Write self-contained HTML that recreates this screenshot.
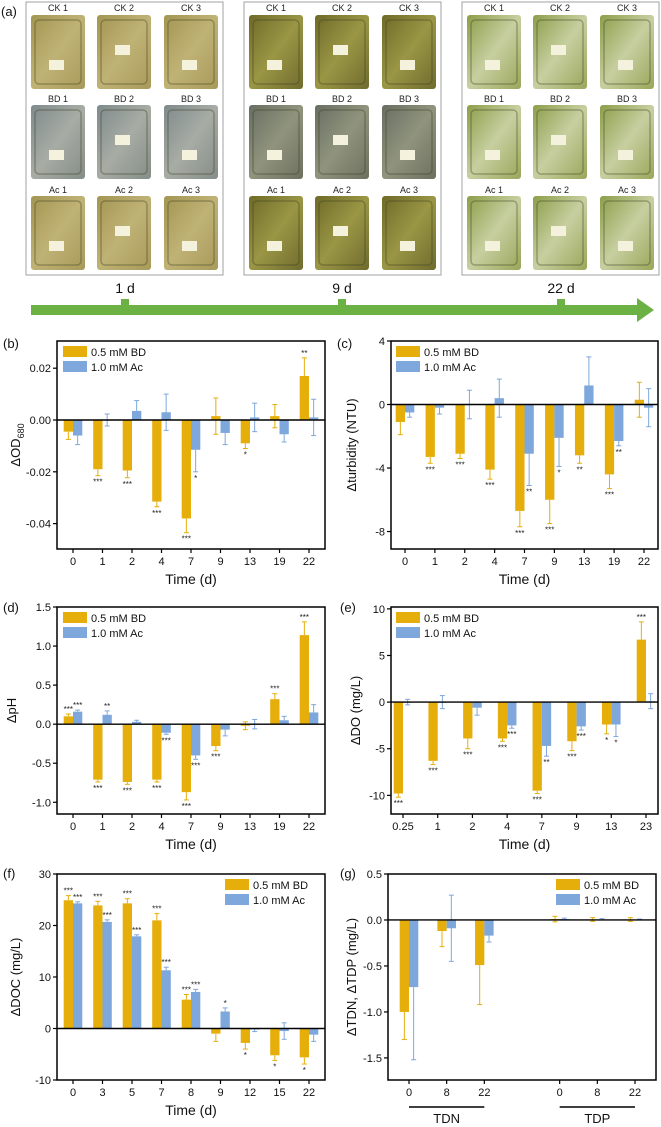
<!DOCTYPE html>
<html><head><meta charset="utf-8">
<style>
html,body{margin:0;padding:0;background:#fff;}
svg{display:block;font-family:"Liberation Sans",Arial,sans-serif;}
</style></head>
<body>
<svg id="fig" width="661" height="1127" viewBox="0 0 661 1127" xmlns="http://www.w3.org/2000/svg">
<defs>
<linearGradient id="g1" x1="0" y1="0" x2="1" y2="1"><stop offset="0" stop-color="#a39652"/><stop offset="0.5" stop-color="#bfb275"/><stop offset="1" stop-color="#a89a5a"/></linearGradient>
<linearGradient id="g1b" x1="0" y1="0" x2="1" y2="1"><stop offset="0" stop-color="#7f8a8c"/><stop offset="0.5" stop-color="#a7aca4"/><stop offset="1" stop-color="#858d88"/></linearGradient>
<linearGradient id="g2" x1="0" y1="0" x2="1" y2="1"><stop offset="0" stop-color="#6e6a28"/><stop offset="0.5" stop-color="#9a9645"/><stop offset="1" stop-color="#6f6b2e"/></linearGradient>
<linearGradient id="g2b" x1="0" y1="0" x2="1" y2="1"><stop offset="0" stop-color="#676e62"/><stop offset="0.5" stop-color="#90947d"/><stop offset="1" stop-color="#6c705f"/></linearGradient>
<linearGradient id="g3" x1="0" y1="0" x2="1" y2="1"><stop offset="0" stop-color="#8c9e4a"/><stop offset="0.5" stop-color="#c7cfa0"/><stop offset="1" stop-color="#9aa65a"/></linearGradient>
</defs>
<g id="photos"></g>
<g id="charts"></g>
</svg>
<script>
const NS="http://www.w3.org/2000/svg";
const GOLD="#e5ae0b", BLUE="#7ea7dc";
function mk(tag,attrs,parent,text){const e=document.createElementNS(NS,tag);for(const k in attrs)e.setAttribute(k,attrs[k]);if(text!==undefined)e.textContent=text;parent.appendChild(e);return e;}

/* ---------- data ---------- */
const catsB=["0","1","2","4","7","9","13","19","22"];
const bdB=[-0.0045,-0.019,-0.0195,-0.0315,-0.038,0.0015,-0.009,0.0015,0.017];
const bdErrB=[0.003,0.0025,0.0028,0.002,0.0055,0.007,0.002,0.0045,0.007];
const acB=[-0.006,0,0.0035,0.003,-0.0115,-0.005,0.001,-0.0055,0.001];
const acErrB=[0.0035,0.0023,0.004,0.007,0.0085,0.0045,0.0055,0.003,0.007];
const sigBdB=["","***","***","***","***","","*","","**"];
const sigAcB=["","","","","*","","","",""];
const ticksB=[0.02,0,-0.02,-0.04];

const catsC=["0","1","2","4","7","9","13","19","22"];
const bdC=[-1.1,-3.3,-3.1,-4.1,-6.7,-6.0,-3.2,-4.4,0.3];
const bdErrC=[0.8,0.4,0.3,0.6,1.0,1.5,0.5,0.9,1.1];
const acC=[-0.5,-0.2,0,0.4,-3.1,-2.1,1.2,-2.3,-0.2];
const acErrC=[0.3,0.4,0.9,1.2,2.0,1.8,1.8,0.3,1.2];
const sigBdC=["","***","***","***","***","***","**","***",""];
const sigAcC=["","","","","**","*","","**",""];
const ticksC=[4,0,-4,-8];

const catsD=["0","1","2","4","7","9","13","19","22"];
const bdD=[0.1,-0.71,-0.74,-0.71,-0.87,-0.28,-0.02,0.32,1.14];
const bdErrD=[0.03,0.03,0.03,0.03,0.1,0.06,0.05,0.07,0.17];
const acD=[0.16,0.12,0.03,-0.11,-0.4,-0.07,0,0.05,0.15];
const acErrD=[0.02,0.05,0.02,0.02,0.05,0.08,0.06,0.05,0.1];
const sigBdD=["***","***","***","***","***","***","","***","***"];
const sigAcD=["***","**","","***","***","","","",""];
const ticksD=[1.5,1.0,0.5,0.0,-0.5,-1.0];

const catsE=["0.25","1","2","4","7","9","13","23"];
const bdE=[-9.8,-6.3,-3.9,-3.9,-9.5,-4.2,-2.4,6.7];
const bdErrE=[0.4,0.4,1.1,0.3,0.3,1.0,1.0,1.9];
const acE=[0,0,-0.6,-2.5,-4.7,-2.6,-2.4,0.1];
const acErrE=[0.3,0.7,0.8,0.3,1.1,0.4,1.3,0.8];
const sigBdE=["***","***","***","***","***","***","*","***"];
const sigAcE=["","","","***","**","***","*",""];
const ticksE=[10,5,0,-5,-10];

const catsF=["0","3","5","7","8","9","12","15","22"];
const bdF=[24.9,23.9,24.3,21,5.6,-1,-2.8,-5.2,-5.6];
const bdErrF=[0.9,0.8,0.9,1.3,1.0,1.5,1.2,1.0,1.3];
const acF=[24.3,20.7,17.9,11.3,7.1,3.3,-0.2,-0.5,-1.2];
const acErrF=[0.3,0.4,0.3,0.6,0.5,0.7,0.4,1.6,1.3];
const sigBdF=["***","***","***","***","***","","*","*","*"];
const sigAcF=["***","***","***","***","***","*","","",""];
const ticksF=[30,20,10,0,-10];

const catsG=["0","8","22","","0","8","22"];
const bdG=[-1.0,-0.12,-0.49,null,0.01,0.005,0.005];
const bdErrG=[0.3,0.17,0.43,null,0.03,0.02,0.02];
const acG=[-0.73,-0.09,-0.17,null,0.01,0.005,0.005];
const acErrG=[0.79,0.36,0.07,null,0.01,0.01,0.005];
const sigBdG=["","","","","","",""];
const sigAcG=["","","","","","",""];
const ticksG=[0.5,0.0,-0.5,-1.0,-1.5];

/* ---------- photos ---------- */
const P=document.getElementById('photos');
const boxes=[{x:26,w:197,g:["url(#g1)","url(#g1b)","url(#g1)"],cols:[31,97,164]},
             {x:244,w:197,g:["url(#g2)","url(#g2b)","url(#g2)"],cols:[249,315,382]},
             {x:462,w:197,g:["url(#g3)","url(#g3)","url(#g3)"],cols:[467,533,600]}];
const rowNames=["CK","BD","Ac"], rowY=[15,105,196], labY=[11,102,193];
boxes.forEach((b,bi)=>{
  const gb=mk('g',{},P);
  
  
  mk('rect',{x:b.x,y:2,width:b.w,height:273,fill:'#fff',stroke:'#a0a0a0','stroke-width':1},gb);
  rowNames.forEach((rn,ri)=>{
    b.cols.forEach((cx,ci)=>{
      const r=mk('rect',{x:cx,y:rowY[ri],width:54,height:74,rx:3,fill:b.g[ri]},gb);
      
      
      mk('rect',{x:cx+4,y:rowY[ri]+5,width:46,height:64,rx:4,fill:'none',stroke:'rgba(60,60,30,0.35)','stroke-width':1.5},gb);
      const ly=rowY[ri]+(ci%2?30:45);
      mk('rect',{x:cx+18,y:ly,width:15,height:10,fill:'#f4f1dc'},gb);
      const t=mk('text',{x:cx+27,y:labY[ri],'font-size':9,'text-anchor':'middle',fill:'#222'},gb,rn+' '+(ci+1));
      
      
    });
  });
});
const arrow=mk('g',{},P);


mk('rect',{x:31,y:305,width:608,height:10,fill:'#6bb144'},arrow);
mk('polygon',{points:'637,298 654,310 637,322',fill:'#6bb144'},arrow);
[[125,"1 d"],[342,"9 d"],[561,"22 d"]].forEach(([x,l])=>{
  mk('rect',{x:x-4,y:299,width:8,height:7,fill:'#6bb144'},arrow);
  const t=mk('text',{x:x,y:293,'font-size':14,'text-anchor':'middle',fill:'#111'},arrow,l);
  
  
});
const ta=mk('text',{x:1,y:16,'font-size':13,fill:'#111'},P,'(a)');



/* ---------- charts ---------- */
const C=document.getElementById('charts');
function panel(cfg){
  const g=mk('g',{},C);
  
  
  const {x0,x1,yT,yB,vT,vB}=cfg;
  const Y=v=>yT+(vT-v)/(vT-vB)*(yB-yT);
  const n=cfg.cats.length;
  const step=(x1-x0-2*cfg.pad)/(n-1);
  const X=i=>x0+cfg.pad+i*step;
  const bw=cfg.bw||9.3;
  // ticks
  cfg.ticks.forEach(t=>{
    const y=Y(t);
    mk('line',{x1:x0,x2:x0-4,y1:y,y2:y,stroke:'#000','stroke-width':1.2},g);
    const lb=mk('text',{x:x0-6,y:y+4,'font-size':11,'text-anchor':'end',fill:'#111'},g,cfg.fmt(t));
    
    
  });
  if(cfg.minor) cfg.minor.forEach(t=>{const y=Y(t);mk('line',{x1:x0,x2:x0-2.5,y1:y,y2:y,stroke:'#000','stroke-width':1},g);});
  // bars
  function series(vals,errs,sig,color,off,name){
    vals.forEach((v,i)=>{
      if(v===null)return;
      const cx=X(i)+off;
      const y0=Y(0), yv=Y(v);
      const r=mk('rect',{x:cx-bw/2,y:Math.min(y0,yv),width:bw,height:Math.max(Math.abs(yv-y0),0.6),fill:color},g);
      
      
      const e=errs[i];
      let ye;
      const dir=v<0?-1:1;
      if(Math.abs(v)<e*0.5){ // two-sided
        mk('line',{x1:cx,x2:cx,y1:Y(v-e),y2:Y(v+e),stroke:color,'stroke-width':1},g);
        mk('line',{x1:cx-2.5,x2:cx+2.5,y1:Y(v-e),y2:Y(v-e),stroke:color,'stroke-width':1},g);
        mk('line',{x1:cx-2.5,x2:cx+2.5,y1:Y(v+e),y2:Y(v+e),stroke:color,'stroke-width':1},g);
        ye=dir<0?Y(v-e):Y(v+e);
      } else {
        ye=Y(v+dir*e);
        mk('line',{x1:cx,x2:cx,y1:yv,y2:ye,stroke:color,'stroke-width':1},g);
        mk('line',{x1:cx-2.5,x2:cx+2.5,y1:ye,y2:ye,stroke:color,'stroke-width':1},g);
      }
      if(sig[i]){
        const sy=dir<0?ye+9:ye-2;
        const s=mk('text',{x:cx,y:sy,'font-size':8,'text-anchor':'middle',fill:'#222'},g,sig[i]);
        
        
      }
    });
  }
  series(cfg.bd,cfg.bde,cfg.sb,GOLD,-bw/2,'bd');
  series(cfg.ac,cfg.ace,cfg.sa,BLUE,bw/2,'ac');
  // zero line
  mk('line',{x1:x0,x2:x1,y1:Y(0),y2:Y(0),stroke:'#000','stroke-width':1.4},g);
  // frame
  mk('rect',{x:x0,y:yT,width:x1-x0,height:yB-yT,fill:'none',stroke:'#000','stroke-width':1.5},g);
  // x ticks + labels
  cfg.cats.forEach((c,i)=>{
    if(c==="")return;
    mk('line',{x1:X(i),x2:X(i),y1:yB,y2:yB+4,stroke:'#000','stroke-width':1.2},g);
    const t=mk('text',{x:X(i),y:yB+16,'font-size':11,'text-anchor':'middle',fill:'#111'},g,c);
    
    
  });
  if(cfg.xtitle){
    const t=mk('text',{x:(x0+x1)/2,y:yB+35,'font-size':14,'text-anchor':'middle',fill:'#111'},g,cfg.xtitle);
    
    
  }
  // y title
  const yt=mk('text',{x:0,y:0,'font-size':13,'text-anchor':'middle',fill:'#111',transform:`translate(${cfg.ytx},${(yT+yB)/2}) rotate(-90)`},g);
  
  
  yt.innerHTML=cfg.ytitle;
  // tag
  const tg=mk('text',{x:cfg.tagx,y:cfg.tagy,'font-size':13,fill:'#111'},g,cfg.tag);
  
  
  // legend
  const lx=cfg.legx, ly=yT+5;
  const lg=mk('g',{},g);
  
  
  mk('rect',{x:lx,y:ly,width:24,height:11,fill:GOLD},lg);
  mk('text',{x:lx+28,y:ly+10,'font-size':11,fill:'#111'},lg,'0.5 mM BD');
  mk('rect',{x:lx,y:ly+15,width:24,height:11,fill:BLUE},lg);
  mk('text',{x:lx+28,y:ly+25,'font-size':11,fill:'#111'},lg,'1.0 mM Ac');
  return {X,Y,g};
}
const f2=v=>v.toFixed(2), f1=v=>v.toFixed(1), f0=v=>String(v);
panel({id:'b',x0:57,x1:325,yT:341,yB:549,vT:0.0305,vB:-0.0498,pad:16,cats:catsB,bd:bdB,bde:bdErrB,ac:acB,ace:acErrB,sb:sigBdB,sa:sigAcB,ticks:ticksB,fmt:f2,xtitle:'Time (d)',ytitle:'ΔOD<tspan font-size="9" dy="4">680</tspan>',ytx:20,tag:'(b)',tagx:3,tagy:348,legx:63});
panel({id:'c',x0:391,x1:658,yT:341,yB:549,vT:4,vB:-9.1,pad:14,cats:catsC,bd:bdC,bde:bdErrC,ac:acC,ace:acErrC,sb:sigBdC,sa:sigAcC,ticks:ticksC,fmt:f0,xtitle:'Time (d)',ytitle:'Δturbidity (NTU)',ytx:356,tag:'(c)',tagx:337,tagy:348,legx:396});
panel({id:'d',x0:57,x1:325,yT:607,yB:814,vT:1.5,vB:-1.15,pad:16,cats:catsD,bd:bdD,bde:bdErrD,ac:acD,ace:acErrD,sb:sigBdD,sa:sigAcD,ticks:ticksD,fmt:f1,xtitle:'Time (d)',ytitle:'ΔpH',ytx:16,tag:'(d)',tagx:3,tagy:612,legx:63});
panel({id:'e',x0:391,x1:658,yT:607,yB:814,vT:10.2,vB:-12,pad:12,cats:catsE,bd:bdE,bde:bdErrE,ac:acE,ace:acErrE,sb:sigBdE,sa:sigAcE,ticks:ticksE,fmt:f0,xtitle:'Time (d)',ytitle:'ΔDO (mg/L)',ytx:360,tag:'(e)',tagx:340,tagy:612,legx:396});
panel({id:'f',x0:57,x1:325,yT:874,yB:1080,vT:30,vB:-10,pad:16,cats:catsF,bd:bdF,bde:bdErrF,ac:acF,ace:acErrF,sb:sigBdF,sa:sigAcF,ticks:ticksF,fmt:f0,xtitle:'Time (d)',ytitle:'ΔDOC (mg/L)',ytx:20,tag:'(f)',tagx:3,tagy:878,legx:225});
const pg=panel({id:'g',x0:388,x1:656,yT:874,yB:1080,vT:0.5,vB:-1.74,pad:21,cats:catsG,bd:bdG,bde:bdErrG,ac:acG,ace:acErrG,sb:sigBdG,sa:sigAcG,ticks:ticksG,fmt:f1,xtitle:null,ytitle:'ΔTDN, ΔTDP (mg/L)',ytx:356,tag:'(g)',tagx:340,tagy:878,legx:556});
[["TDN",0,2],["TDP",4,6]].forEach(([l,a,b])=>{
  const xa=pg.X(a), xb=pg.X(b);
  const ln=mk('line',{x1:xa,x2:xb,y1:1107,y2:1107,stroke:'#000','stroke-width':1.5},pg.g);
  
  
  const t=mk('text',{x:(xa+xb)/2,y:1123,'font-size':13,'text-anchor':'middle',fill:'#111'},pg.g,l);
  
  
});
</script>
</body></html>
